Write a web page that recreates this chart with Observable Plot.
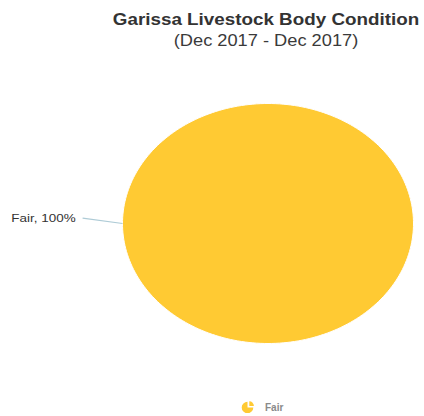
<!DOCTYPE html>
<html>
<head>
<meta charset="utf-8">
<script src="https://cdn.jsdelivr.net/npm/d3@7"></script>
<script src="https://cdn.jsdelivr.net/npm/@observablehq/plot@0.6"></script>
<style>
  html, body { margin: 0; padding: 0; background: #fff; }
  body { font-family: "Liberation Sans", Arial, Helvetica, sans-serif; }
  #wrap { width: 424px; height: 416px; position: relative; overflow: hidden; }
  #header { position: relative; height: 56px; }
  .hline { position: absolute; left: 266px; white-space: nowrap; line-height: 1;
           transform: translateX(-50%) scaleX(1.14); color: #333; }
  #title { top: 11px; font-size: 16.5px; font-weight: bold; }
  #subtitle { top: 33px; font-size: 16px; color: #3a3a3a; }
  #legend { position: relative; height: 30px; }
  #legend .item { position: absolute; left: 241px; top: 15px; display: flex; align-items: center; }
  #legend .name { font-size: 10px; font-weight: bold; color: #8a8a8a; margin-left: 10px; }
</style>
</head>
<body>
<div id="wrap">
  <div id="header">
    <div class="hline" id="title"></div>
    <div class="hline" id="subtitle"></div>
  </div>
  <div id="chart"></div>
  <div id="legend"></div>
</div>
<script>
// Livestock body condition shares for Garissa
const title = "Garissa Livestock Body Condition";
const subtitle = "(Dec 2017 - Dec 2017)";
const categories = ["Fair"];
const shares = [100];
const colors = ["#FFCA33"];

document.getElementById("title").textContent = title;
document.getElementById("subtitle").textContent = subtitle;

// Slice angles (clockwise from 12 o'clock), starting at 3 o'clock
const arcs = d3.pie().sort(null).startAngle(Math.PI / 2).endAngle(Math.PI / 2 + 2 * Math.PI)(shares);

// Outline of each slice in unit-radius coordinates; the x/y scales stretch it
const outline = [];
arcs.forEach((a, i) => {
  const full = a.endAngle - a.startAngle >= 2 * Math.PI - 1e-9;
  if (!full) outline.push({cat: categories[i], x: 0, y: 0});
  const steps = 240;
  for (let k = 0; k <= steps; ++k) {
    const t = a.startAngle + (a.endAngle - a.startAngle) * k / steps;
    outline.push({cat: categories[i], x: Math.sin(t), y: Math.cos(t)});
  }
});

// Data labels with connectors
const labelRadius = 1.275, labelTurn = 0.035;
const labels = arcs.map((a, i) => {
  const mid = (a.startAngle + a.endAngle) / 2;
  return {
    text: `${categories[i]}, ${shares[i]}%`,
    x1: Math.sin(mid), y1: Math.cos(mid),
    x2: labelRadius * Math.sin(mid + labelTurn), y2: labelRadius * Math.cos(mid + labelTurn)
  };
});

const chart = Plot.plot({
  width: 424,
  height: 330,
  marginLeft: 122,
  marginRight: 11,
  marginTop: 47,
  marginBottom: 43,
  x: {domain: [-1, 1], axis: null},
  y: {domain: [-1, 1], axis: null},
  style: {fontFamily: "'Liberation Sans', Arial, Helvetica, sans-serif", background: "transparent"},
  marks: [
    Plot.line(outline, {
      x: "x", y: "y", z: "cat", curve: "linear-closed",
      fill: d => colors[categories.indexOf(d.cat)],
      stroke: "#fff", strokeWidth: 1
    }),
    Plot.link(labels, {x1: "x2", y1: "y2", x2: "x1", y2: "y1", stroke: "#aecbd6", strokeWidth: 1.2}),
    Plot.text(labels, {
      x: "x2", y: "y2", text: "text", textAnchor: "end", dx: -7,
      fontSize: 11.5, fill: "#333", className: "pie-label"
    })
  ]
});
// Widen label glyphs to match the chart's horizontal proportions
d3.select(chart).selectAll(".pie-label text").attr("transform", function() {
  return (this.getAttribute("transform") || "") + " scale(1.17,1)";
});
document.getElementById("chart").appendChild(chart);

// Legend
const legend = d3.select("#legend");
categories.forEach((c, i) => {
  const item = legend.append("div").attr("class", "item");
  const icon = item.append("svg").attr("width", 14).attr("height", 12);
  const g = icon.append("g").attr("transform", "translate(6.5,6.5)");
  g.append("path").attr("d", d3.arc()({innerRadius: 0, outerRadius: 5.8, startAngle: Math.PI / 2, endAngle: 2 * Math.PI})).attr("fill", colors[i]);
  g.append("path").attr("transform", "translate(1.8,-1.6)").attr("d", d3.arc()({innerRadius: 0, outerRadius: 4.6, startAngle: 0, endAngle: Math.PI / 2})).attr("fill", colors[i]);
  item.append("span").attr("class", "name").text(c);
});
</script>
</body>
</html>
